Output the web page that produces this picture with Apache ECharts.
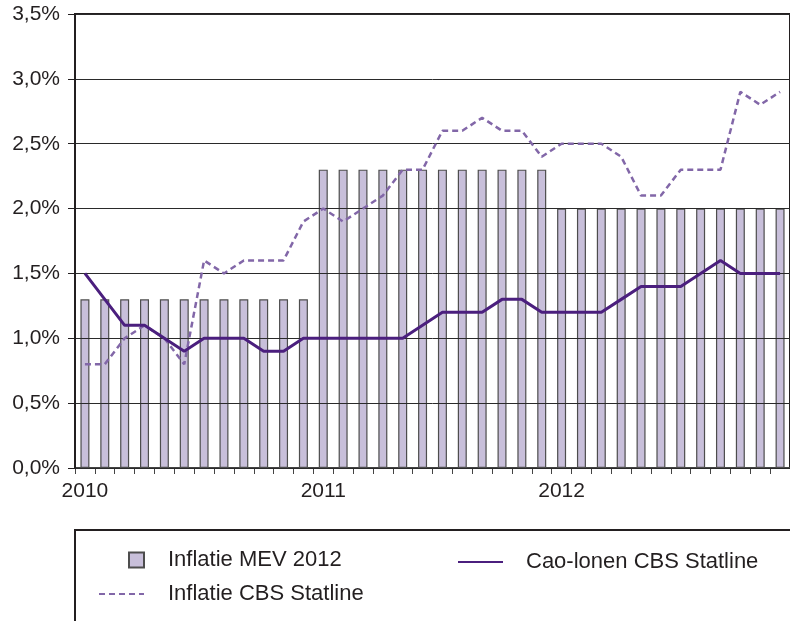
<!DOCTYPE html>
<html>
<head>
<meta charset="utf-8">
<script src="https://cdn.jsdelivr.net/npm/echarts@6/dist/echarts.min.js"></script>
<style>
html,body{margin:0;padding:0;background:#fff;}
#chart{width:790px;height:621px;}
</style>
</head>
<body>
<div id="chart"></div>
<script>
var years = ['2010','2011','2012'];
var months = [];
for (var y = 0; y < years.length; y++) {
	for (var m = 1; m <= 12; m++) {
		months.push(years[y] + '-' + (m < 10 ? '0' + m : m));
	}
}

// Inflatie MEV 2012 (staven)
var mevData = [1.3,1.3,1.3,1.3,1.3,1.3,1.3,1.3,1.3,1.3,1.3,1.3,
	2.3,2.3,2.3,2.3,2.3,2.3,2.3,2.3,2.3,2.3,2.3,2.3,
	2.0,2.0,2.0,2.0,2.0,2.0,2.0,2.0,2.0,2.0,2.0,2.0];
// Inflatie CBS Statline (gestippeld)
var cbsData = [0.8,0.8,1.0,1.1,1.0,0.8,1.6,1.5,1.6,1.6,1.6,1.9,
	2.0,1.9,2.0,2.1,2.3,2.3,2.6,2.6,2.7,2.6,2.6,2.4,
	2.5,2.5,2.5,2.4,2.1,2.1,2.3,2.3,2.3,2.9,2.8,2.9];
// Cao-lonen CBS Statline
var caoData = [1.5,1.3,1.1,1.1,1.0,0.9,1.0,1.0,1.0,0.9,0.9,1.0,
	1.0,1.0,1.0,1.0,1.0,1.1,1.2,1.2,1.2,1.3,1.3,1.2,
	1.2,1.2,1.2,1.3,1.4,1.4,1.4,1.5,1.6,1.5,1.5,1.5];

var txt = '#231f20';
var font = 'Liberation Sans';

var myChart = echarts.init(document.getElementById('chart'));
var option = {
	animation: false,
	textStyle: {fontFamily: font, color: txt},
	grid: {
		left: 75, top: 14, right: -5, bottom: 153,
		show: true, borderColor: txt, borderWidth: 2
	},
	xAxis: {
		type: 'category',
		data: months,
		axisLine: {lineStyle: {color: '#444', width: 2}},
		axisTick: {show: true, length: 6, interval: 0, lineStyle: {color: '#444'}},
		axisLabel: {
			interval: function(i){ return i % 12 === 0; },
			formatter: function(v){ return v.substr(0,4); },
			fontSize: 21, fontFamily: font, color: txt, margin: 13
		},
		splitLine: {show: false}
	},
	yAxis: {
		type: 'value',
		min: 0, max: 3.5, interval: 0.5,
		z: 3,
		axisLine: {show: true, lineStyle: {color: txt, width: 2}},
		axisTick: {show: true, length: 7, lineStyle: {color: txt}},
		axisLabel: {
			formatter: function(v){ return v.toFixed(1).replace('.', ',') + '%'; },
			fontSize: 21, fontFamily: font, color: txt, margin: 15
		},
		splitLine: {lineStyle: {color: '#2a2a2a', width: 1}}
	},
	legend: [{
		data: ['Inflatie MEV 2012'],
		left: 128, top: 549, padding: 0,
		itemWidth: 15, itemHeight: 15, icon: 'rect',
		textStyle: {fontSize: 22, fontFamily: font, color: txt, padding: [0,0,0,19]}
	}, {
		data: ['Inflatie CBS Statline'],
		left: 98, top: 583, padding: 0,
		itemWidth: 45, itemHeight: 14,
		itemStyle: {opacity: 0},
		textStyle: {fontSize: 22, fontFamily: font, color: txt, padding: [0,0,0,19]}
	}, {
		data: ['Cao-lonen CBS Statline'],
		left: 457, top: 551, padding: 0,
		itemWidth: 45, itemHeight: 14,
		itemStyle: {opacity: 0},
		textStyle: {fontSize: 22, fontFamily: font, color: txt, padding: [0,0,0,18]}
	}],
	graphic: [{
		type: 'rect',
		shape: {x: 75, y: 530, width: 760, height: 140},
		style: {fill: 'none', stroke: txt, lineWidth: 2},
		silent: true
	}],
	series: [{
		name: 'Inflatie MEV 2012',
		type: 'bar',
		data: mevData,
		barWidth: 9,
		z: 2,
		itemStyle: {color: '#c8bfda', borderColor: '#4d4d4d', borderWidth: 1.2}
	}, {
		name: 'Inflatie CBS Statline',
		type: 'line',
		data: cbsData,
		symbol: 'none',
		z: 5,
		lineStyle: {color: '#8267a8', width: 2.5, type: [6,4]},
		itemStyle: {color: '#8267a8'}
	}, {
		name: 'Cao-lonen CBS Statline',
		type: 'line',
		data: caoData,
		symbol: 'none',
		z: 6,
		lineStyle: {color: '#4b1f7e', width: 3},
		itemStyle: {color: '#4b1f7e'}
	}]
};
myChart.setOption(option);
</script>
</body>
</html>
